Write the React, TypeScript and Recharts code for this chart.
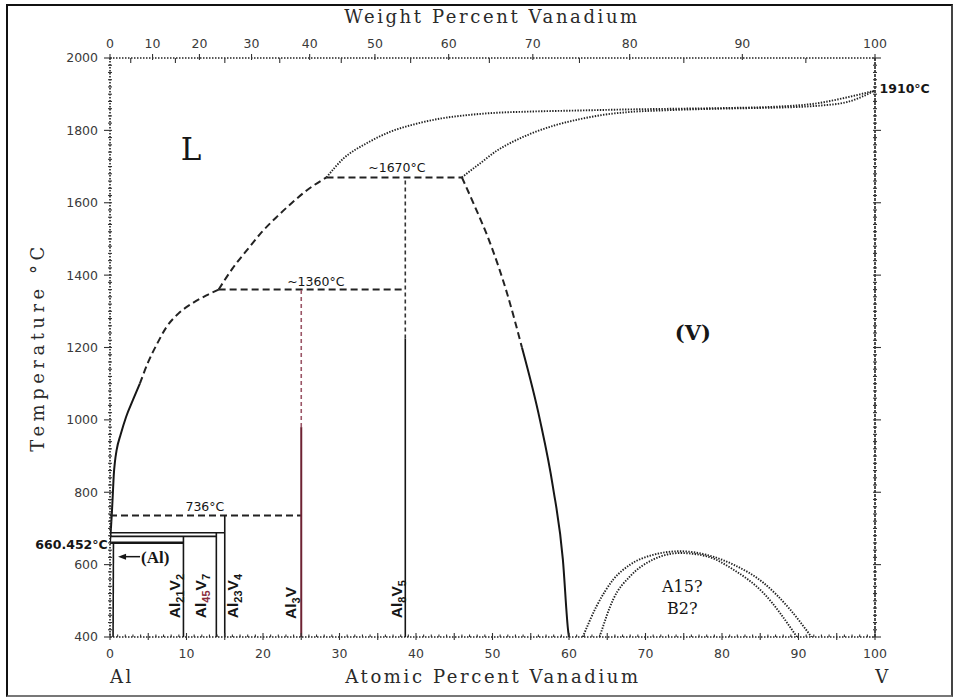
import React from 'react';
import { LineChart, Line, XAxis, YAxis, ReferenceDot } from 'recharts';

type Pt = { x: number; t: number };

// x = atomic percent V, t = temperature in °C

// liquidus on the Al side, solid part then dashed up to the Al3V peritectic
const liquidusAl: Pt[] = [
  { x: 0, t: 660.452 }, { x: 0.12, t: 700 }, { x: 0.25, t: 745 }, { x: 0.38, t: 800 },
  { x: 0.5, t: 850 }, { x: 0.65, t: 885 }, { x: 0.87, t: 917 }, { x: 1.4, t: 960 },
  { x: 2.1, t: 1008 }, { x: 3.0, t: 1055 }, { x: 3.9, t: 1100 },
];
const liquidusAl3V: Pt[] = [
  { x: 3.9, t: 1100 }, { x: 5.0, t: 1160 }, { x: 6.2, t: 1212 }, { x: 7.4, t: 1257 },
  { x: 8.9, t: 1293 }, { x: 10.9, t: 1324 }, { x: 12.6, t: 1344 }, { x: 14.2, t: 1360 },
];
const liquidusAl8V5: Pt[] = [
  { x: 14.2, t: 1360 }, { x: 16, t: 1418 }, { x: 17.9, t: 1469 }, { x: 19.8, t: 1518 },
  { x: 21.8, t: 1561 }, { x: 23.8, t: 1600 }, { x: 25.7, t: 1634 }, { x: 28.3, t: 1670 },
];
const liquidusV: Pt[] = [
  { x: 28.3, t: 1670 }, { x: 30.5, t: 1722 }, { x: 33.6, t: 1765 }, { x: 36.5, t: 1795 },
  { x: 40, t: 1818 }, { x: 43.3, t: 1833 }, { x: 46.6, t: 1842 }, { x: 50, t: 1848 },
  { x: 55, t: 1852 }, { x: 61.4, t: 1855 }, { x: 68, t: 1858 }, { x: 74.4, t: 1860 },
  { x: 81, t: 1862 }, { x: 87.5, t: 1866 }, { x: 92.5, t: 1875 }, { x: 96.3, t: 1891 },
  { x: 100, t: 1910 },
];
const solidusV: Pt[] = [
  { x: 46, t: 1670 }, { x: 47.2, t: 1690 }, { x: 48.4, t: 1709 }, { x: 50.5, t: 1743 },
  { x: 52.8, t: 1770 }, { x: 54.9, t: 1790 }, { x: 58, t: 1813 }, { x: 61.4, t: 1831 },
  { x: 64.5, t: 1843 }, { x: 68, t: 1851 }, { x: 72, t: 1855 }, { x: 76, t: 1858 },
  { x: 80, t: 1860 }, { x: 85, t: 1862 }, { x: 89, t: 1864 }, { x: 92.5, t: 1868 },
  { x: 96.3, t: 1878 }, { x: 100, t: 1910 },
];
const solvusVUpper: Pt[] = [
  { x: 46, t: 1670 }, { x: 47.5, t: 1599 }, { x: 49.7, t: 1488 }, { x: 51.9, t: 1350 },
  { x: 53.85, t: 1200 },
];
const solvusVLower: Pt[] = [
  { x: 53.85, t: 1200 }, { x: 56.2, t: 1000 }, { x: 57.9, t: 815 }, { x: 59.2, t: 614 },
  { x: 59.9, t: 415 }, { x: 60, t: 400 },
];
const orderOuter: Pt[] = [
  { x: 61.8, t: 400 }, { x: 63.6, t: 485 }, { x: 65.8, t: 559 }, { x: 68, t: 600 },
  { x: 71, t: 627 }, { x: 74.5, t: 637 }, { x: 78, t: 627 }, { x: 81.5, t: 600 },
  { x: 85.4, t: 550 }, { x: 88.9, t: 476 }, { x: 91.7, t: 400 },
];
const orderInner: Pt[] = [
  { x: 64, t: 400 }, { x: 65.8, t: 505 }, { x: 68, t: 568 }, { x: 71, t: 614 },
  { x: 74.5, t: 632 }, { x: 78, t: 623 }, { x: 81.5, t: 586 }, { x: 85.4, t: 522 },
  { x: 89.8, t: 400 },
];
const solvusAl: Pt[] = [{ x: 0.45, t: 660.452 }, { x: 0.4, t: 400 }];

// invariant reactions
const eutectic660: Pt[] = [{ x: 0, t: 660.452 }, { x: 9.6, t: 660.452 }];
const peritectic678: Pt[] = [{ x: 0, t: 678 }, { x: 13.9, t: 678 }];
const peritectic688: Pt[] = [{ x: 0, t: 688 }, { x: 15, t: 688 }];
const peritectic736: Pt[] = [{ x: 0, t: 736 }, { x: 25, t: 736 }];
const peritectic1360: Pt[] = [{ x: 14.2, t: 1360 }, { x: 38.6, t: 1360 }];
const peritectic1670: Pt[] = [{ x: 28.3, t: 1670 }, { x: 46, t: 1670 }];

// intermetallic compounds
const al21v2: Pt[] = [{ x: 9.6, t: 400 }, { x: 9.6, t: 678 }];
const al45v7: Pt[] = [{ x: 13.9, t: 400 }, { x: 13.9, t: 688 }];
const al23v4: Pt[] = [{ x: 15, t: 400 }, { x: 15, t: 736 }];
const al3vLow: Pt[] = [{ x: 25, t: 400 }, { x: 25, t: 980 }];
const al3vHigh: Pt[] = [{ x: 25, t: 980 }, { x: 25, t: 1360 }];
const al8v5Low: Pt[] = [{ x: 38.6, t: 400 }, { x: 38.6, t: 1225 }];
const al8v5High: Pt[] = [{ x: 38.6, t: 1225 }, { x: 38.6, t: 1670 }];

// axis ticks
const atomicLabels = [0, 10, 20, 30, 40, 50, 60, 70, 80, 90, 100];
const atomicTicks = Array.from({ length: 101 }, (_, i) => i);
const tempLabels = [400, 600, 800, 1000, 1200, 1400, 1600, 1800, 2000];
const tempTicks = Array.from({ length: 81 }, (_, i) => 400 + i * 20);
const weightLabels = [0, 10, 20, 30, 40, 50, 60, 70, 80, 90, 100];
// weight-% ticks expressed in atomic-% positions
const weightLabelPos = [0, 5.56, 11.69, 18.5, 26.1, 34.63, 44.27, 55.27, 67.93, 82.66, 100];
const weightHalfPos = [2.71, 8.55, 15.01, 22.19, 30.23, 39.3, 49.59, 61.37, 75.01, 90.96];

const INK = '#161616';
const SANS = '"DejaVu Sans", sans-serif';
const SERIF = '"DejaVu Serif", serif';

type Style = 'solid' | 'thin' | 'dash' | 'dashV' | 'dot' | 'heavy' | 'red' | 'redDash';
const strokes: Record<Style, { stroke: string; width: number; dash?: string }> = {
  solid: { stroke: INK, width: 2 },
  thin: { stroke: INK, width: 1.6 },
  heavy: { stroke: INK, width: 2.6 },
  dash: { stroke: '#222', width: 2, dash: '7 4' },
  dashV: { stroke: '#333', width: 1.6, dash: '4 3' },
  dot: { stroke: '#222', width: 1.9, dash: '1.4 1.4' },
  red: { stroke: '#6e2233', width: 2 },
  redDash: { stroke: '#9a5566', width: 1.6, dash: '4 3' },
};

const series: { id: string; data: Pt[]; style: Style; curve?: boolean }[] = [
  { id: 'liqAl', data: liquidusAl, style: 'solid', curve: true },
  { id: 'liqAl3V', data: liquidusAl3V, style: 'dash', curve: true },
  { id: 'liqAl8V5', data: liquidusAl8V5, style: 'dash', curve: true },
  { id: 'liqV', data: liquidusV, style: 'dot', curve: true },
  { id: 'solV', data: solidusV, style: 'dot', curve: true },
  { id: 'svUp', data: solvusVUpper, style: 'dash', curve: true },
  { id: 'svLow', data: solvusVLower, style: 'solid', curve: true },
  { id: 'domeOut', data: orderOuter, style: 'dot', curve: true },
  { id: 'domeIn', data: orderInner, style: 'dot', curve: true },
  { id: 'solAl', data: solvusAl, style: 'thin' },
  { id: 'e660', data: eutectic660, style: 'heavy' },
  { id: 'p678', data: peritectic678, style: 'thin' },
  { id: 'p688', data: peritectic688, style: 'thin' },
  { id: 'p736', data: peritectic736, style: 'dash' },
  { id: 'p1360', data: peritectic1360, style: 'dash' },
  { id: 'p1670', data: peritectic1670, style: 'dash' },
  { id: 'c21', data: al21v2, style: 'thin' },
  { id: 'c45', data: al45v7, style: 'thin' },
  { id: 'c23', data: al23v4, style: 'thin' },
  { id: 'c3lo', data: al3vLow, style: 'red' },
  { id: 'c3hi', data: al3vHigh, style: 'redDash' },
  { id: 'c8lo', data: al8v5Low, style: 'thin' },
  { id: 'c8hi', data: al8v5High, style: 'dashV' },
];

type Part = [string, boolean?, string?];
type Anno =
  | { id: string; x: number; t: number; kind: 'text'; text: string; size: number; font: string; weight?: number; anchor?: 'start' | 'middle' | 'end' }
  | { id: string; x: number; t: number; kind: 'formula'; parts: Part[] }
  | { id: string; x: number; t: number; kind: 'arrow'; text: string };

const annotations: Anno[] = [
  { id: 'L', x: 10.6, t: 1748, kind: 'text', text: 'L', size: 31, font: SERIF },
  { id: 'V', x: 76.2, t: 1240, kind: 'text', text: '(V)', size: 21, font: SERIF, weight: 600 },
  { id: 'a15', x: 74.8, t: 539, kind: 'text', text: 'A15?', size: 16, font: SERIF },
  { id: 'b2', x: 74.8, t: 479, kind: 'text', text: 'B2?', size: 16, font: SERIF },
  { id: 't1670', x: 37.5, t: 1698, kind: 'text', text: '~1670°C', size: 12.5, font: SANS },
  { id: 't1360', x: 26.9, t: 1381, kind: 'text', text: '~1360°C', size: 12.5, font: SANS },
  { id: 't736', x: 12.4, t: 760, kind: 'text', text: '736°C', size: 12.5, font: SANS },
  { id: 't660', x: -0.3, t: 655, kind: 'text', text: '660.452°C', size: 12.5, font: SANS, weight: 700, anchor: 'end' },
  { id: 't1910', x: 100.6, t: 1916, kind: 'text', text: '1910°C', size: 12.5, font: SANS, weight: 700, anchor: 'start' },
  { id: 'f21', x: 9.15, t: 452, kind: 'formula', parts: [['Al'], ['21', true], ['V'], ['2', true]] },
  { id: 'f45', x: 12.5, t: 452, kind: 'formula', parts: [['Al'], ['45', true, '#8a2d3c'], ['V'], ['7', true]] },
  { id: 'f23', x: 16.7, t: 452, kind: 'formula', parts: [['Al'], ['23', true], ['V'], ['4', true]] },
  { id: 'f3', x: 24.3, t: 450, kind: 'formula', parts: [['Al'], ['3', true], ['V']] },
  { id: 'f85', x: 38.2, t: 452, kind: 'formula', parts: [['Al'], ['8', true], ['V'], ['5', true]] },
  { id: 'alArrow', x: 1.05, t: 622, kind: 'arrow', text: '(Al)' },
];

const renderAnno = (a: Anno) => (props: any) => {
  const vb = props.viewBox || { x: 0, y: 0, width: 0, height: 0 };
  const cx = vb.x + (vb.width || 0) / 2;
  const cy = vb.y + (vb.height || 0) / 2;
  if (a.kind === 'text') {
    return (
      <text x={cx} y={cy} dy="0.35em" textAnchor={a.anchor ?? 'middle'} fontFamily={a.font}
        fontSize={a.size} fontWeight={a.weight ?? 400} fill={INK}>
        {a.text}
      </text>
    );
  }
  if (a.kind === 'formula') {
    let shift = 0;
    return (
      <text x={cx} y={cy} transform={`rotate(-90 ${cx} ${cy})`} fontFamily='"Liberation Sans", sans-serif'
        fontWeight={700} fontSize={15.5} fill={INK}>
        {a.parts.map(([s, sub, color], i) => {
          const dy = (sub ? 4 : 0) - shift;
          shift = sub ? 4 : 0;
          return (
            <tspan key={i} dy={dy} fontSize={sub ? 11 : 15.5} fill={color ?? INK}>{s}</tspan>
          );
        })}
      </text>
    );
  }
  return (
    <g>
      <line x1={cx + 5} x2={cx + 22} y1={cy} y2={cy} stroke={INK} strokeWidth={1.5} />
      <polygon points={`${cx},${cy} ${cx + 8},${cy - 3} ${cx + 8},${cy + 3}`} fill={INK} />
      <text x={cx + 23} y={cy} dy="0.35em" fontFamily={'"Liberation Serif", serif'} fontWeight={700}
        fontSize={17} fill={INK}>{a.text}</text>
    </g>
  );
};

const tickText = { fontFamily: SANS, fontSize: 12.5, fill: '#3a3a3a' };

const BottomTick = (props: any) => {
  const { x, y, payload } = props;
  const v = payload.value as number;
  const major = atomicLabels.includes(v);
  const mid = v % 5 === 0;
  return (
    <g>
      <line x1={x} x2={x} y1={y - (mid ? 4 : 2.5)} y2={y + (mid ? 3 : 0)} stroke="#333" strokeWidth={1.1} />
      {major && <text x={x} y={y + 21} textAnchor="middle" {...tickText}>{v}</text>}
    </g>
  );
};

const TopTick = (props: any) => {
  const { x, y, payload } = props;
  const v = payload.value as number;
  const idx = weightLabelPos.findIndex((p) => Math.abs(p - v) < 0.01);
  return (
    <g>
      {idx >= 0 ? (
        <>
          <line x1={x} x2={x} y1={y - 4} y2={y + 2} stroke="#333" strokeWidth={1.1} />
          <text x={x} y={y - 10} textAnchor="middle" {...tickText}>{weightLabels[idx]}</text>
        </>
      ) : (
        <line x1={x} x2={x} y1={y} y2={y + 5} stroke="#333" strokeWidth={1.1} />
      )}
    </g>
  );
};

const LeftTick = (props: any) => {
  const { x, y, payload } = props;
  const v = payload.value as number;
  const major = tempLabels.includes(v);
  return (
    <g>
      <line x1={x - (major ? 6 : 2)} x2={x + 2} y1={y} y2={y} stroke="#333" strokeWidth={1.1} />
      {major && <text x={x - 12} y={y} dy="0.35em" textAnchor="end" {...tickText}>{v}</text>}
    </g>
  );
};

const RightTick = (props: any) => {
  const { x, y, payload } = props;
  const major = tempLabels.includes(payload.value as number);
  return <line x1={x - 2} x2={x + (major ? 6 : 2)} y1={y} y2={y} stroke="#333" strokeWidth={1.1} />;
};

const axisLine = { stroke: '#222', strokeWidth: 1.6, strokeDasharray: '1.5 1.5' };

export default function App() {
  return (
    <div style={{ position: 'absolute', left: 0, top: 0, width: 959, height: 698, background: '#fff', overflow: 'hidden' }}>
      <div
        style={{
          position: 'absolute', left: 6, top: 4, width: 943, height: 689,
          border: '2px solid #111', borderBottomColor: '#777', borderRightColor: '#444',
        }}
      />
      <div style={{ position: 'absolute', left: 0, top: 0 }}>
        <LineChart width={959} height={698} margin={{ top: 28, right: 54, bottom: 31, left: 0 }}>
          <XAxis xAxisId="bottom" type="number" dataKey="x" domain={[0, 100]} ticks={atomicTicks}
            interval={0} height={30} tickSize={0} tickMargin={0} tickLine={false}
            axisLine={axisLine} tick={<BottomTick />} allowDataOverflow />
          <XAxis xAxisId="top" orientation="top" type="number" dataKey="x" domain={[0, 100]}
            ticks={[...weightLabelPos, ...weightHalfPos].sort((a, b) => a - b)} interval={0} height={30}
            tickSize={0} tickMargin={0} tickLine={false} axisLine={axisLine} tick={<TopTick />} allowDataOverflow />
          <YAxis yAxisId="left" type="number" domain={[400, 2000]} ticks={tempTicks} interval={0} width={110}
            tickSize={0} tickMargin={0} tickLine={false} axisLine={axisLine} tick={<LeftTick />} allowDataOverflow />
          <YAxis yAxisId="right" orientation="right" type="number" domain={[400, 2000]} ticks={tempTicks}
            interval={0} width={30} tickSize={0} tickMargin={0} tickLine={false}
            axisLine={{ stroke: '#222', strokeWidth: 1.6, strokeDasharray: '3 1' }} tick={<RightTick />} allowDataOverflow />
          {series.map((s) => {
            const st = strokes[s.style];
            return (
              <Line key={s.id} xAxisId="bottom" yAxisId="left" data={s.data} dataKey="t"
                type={s.curve ? 'monotone' : 'linear'} stroke={st.stroke} strokeWidth={st.width}
                strokeDasharray={st.dash} dot={false} activeDot={false} isAnimationActive={false} />
            );
          })}
          {annotations.map((a) => (
            <ReferenceDot key={a.id} xAxisId="bottom" yAxisId="left" x={a.x} y={a.t} r={0}
              fill="none" stroke="none" ifOverflow="visible" label={{ content: renderAnno(a) }} />
          ))}
        </LineChart>
      </div>
      <svg width={959} height={698} style={{ position: 'absolute', left: 0, top: 0, pointerEvents: 'none' }}>
        <g fontFamily={SERIF} fontSize={18} fill="#2a2a2a" letterSpacing={2.6}>
          <text x={492} y={23} textAnchor="middle">Weight Percent Vanadium</text>
          <text x={493} y={683} textAnchor="middle">Atomic Percent Vanadium</text>
          <text x={122} y={683} textAnchor="middle">Al</text>
          <text x={883} y={683} textAnchor="middle">V</text>
          <text x={44} y={347} textAnchor="middle" letterSpacing={4.5} transform="rotate(-90 44 347)">
            Temperature °C
          </text>
        </g>
      </svg>
    </div>
  );
}
